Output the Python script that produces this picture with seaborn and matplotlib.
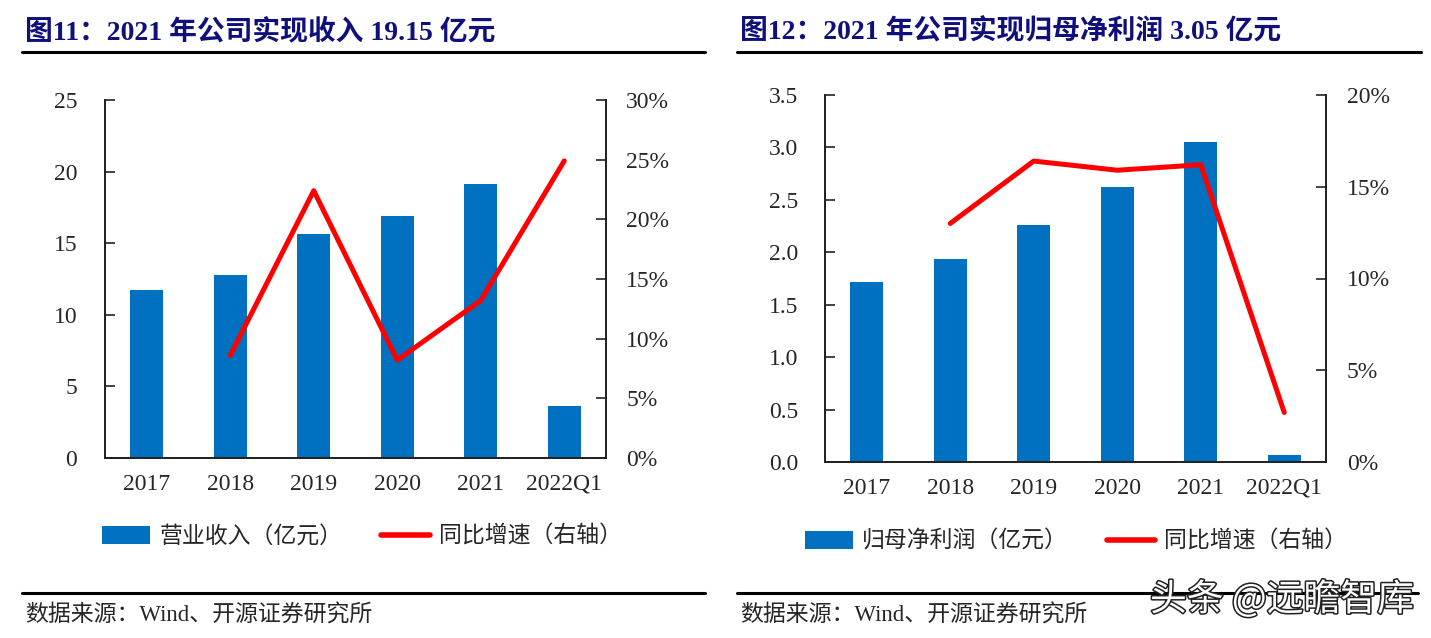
import numpy as np
import pandas as pd
import matplotlib
matplotlib.use('Agg')
import matplotlib.pyplot as plt
import matplotlib.patheffects as pe
from matplotlib.lines import Line2D
from matplotlib.patches import Patch
from matplotlib.ticker import FuncFormatter
import seaborn as sns

# data
years = ['2017', '2018', '2019', '2020', '2021', '2022Q1']
revenue = [11.76, 12.77, 15.63, 16.91, 19.15, 3.63]
revenue_yoy = [np.nan, 8.6, 22.4, 8.2, 13.2, 24.9]
profit = [1.72, 1.94, 2.26, 2.62, 3.05, 0.07]
profit_yoy = [np.nan, 13.0, 16.4, 15.9, 16.2, 2.7]

BLUE = '#0070C0'
RED = '#FF0000'
NAVY = '#10107c'
W, H = 1431, 638

sns.set_style('white')
plt.rcParams['font.family'] = ['Liberation Serif', 'Noto Sans CJK SC']
plt.rcParams['axes.unicode_minus'] = False

fig = plt.figure(figsize=(W / 100, H / 100), dpi=100)


def box(x0, y0, x1, y1):
    return [x0 / W, 1 - y1 / H, (x1 - x0) / W, (y1 - y0) / H]


def hline(x0, x1, y, lw=2.2):
    fig.add_artist(Line2D([x0 / W, x1 / W], [1 - y / H, 1 - y / H], color='black', lw=lw))


def panel(rect, values, yoy, ylim, yticks, yfmt, rlim, rticks, lpad, rpad):
    n = len(years)
    df = pd.DataFrame({'year': years, 'value': values, 'pos': np.arange(n), 'yoy': yoy})
    ax = fig.add_axes(rect)
    sns.barplot(data=df, x='year', y='value', color=BLUE, saturation=1,
                width=0.4, linewidth=0, ax=ax)
    ax2 = ax.twinx()
    sns.lineplot(data=df, x='pos', y='yoy', color=RED, lw=3.6, ax=ax2)

    ax.set_xlim(-0.5, n - 0.5)
    ax.set_ylim(*ylim)
    ax.set_yticks(yticks)
    ax.yaxis.set_major_formatter(FuncFormatter(lambda v, p: yfmt.format(v)))
    ax.set_xticks(np.arange(-0.5, n), labels=[''] * (n + 1))
    ax.set_xticks(np.arange(n), labels=years, minor=True)
    ax.tick_params(axis='x', which='major', direction='in', length=7, width=1.2, color='#222')
    ax.tick_params(axis='x', which='minor', length=0, pad=11.5, labelsize=17)
    ax.tick_params(axis='y', direction='in', length=7, width=1.2, color='#222',
                   pad=lpad, labelsize=17, left=True)

    ax2.set_ylim(*rlim)
    ax2.set_yticks(rticks)
    ax2.yaxis.set_major_formatter(FuncFormatter(lambda v, p: '{:.0f}%'.format(v)))
    ax2.tick_params(axis='y', direction='in', length=7, width=1.2, color='#222',
                    pad=rpad, labelsize=17, right=True)
    ax.set_xlim(-0.5, n - 0.5)

    for a in (ax, ax2):
        a.set_xlabel('')
        a.set_ylabel('')
        a.spines['top'].set_visible(False)
        for s in ('left', 'right', 'bottom'):
            a.spines[s].set_color('#222')
            a.spines[s].set_linewidth(1.3)
    return ax, ax2


# left panel: revenue
panel(box(105, 100, 606, 458), revenue, revenue_yoy, (0, 25), np.arange(0, 26, 5),
      '{:.0f}', (0, 30), np.arange(0, 31, 5), 20, 14.5)
# right panel: net profit
panel(box(825, 95, 1326, 462), profit, profit_yoy, (0, 3.5), np.arange(0, 3.51, 0.5),
      '{:.1f}', (0, 20), np.arange(0, 21, 5), 19.5, 15)

# titles
fig.text(25 / W, 1 - 32 / H, '图11：2021 年公司实现收入 19.15 亿元', fontsize=20,
         fontweight='bold', color=NAVY, va='center', ha='left')
fig.text(740 / W, 1 - 32 / H, '图12：2021 年公司实现归母净利润 3.05 亿元', fontsize=20,
         fontweight='bold', color=NAVY, va='center', ha='left')
hline(22, 705, 52)
hline(737, 1421, 52)

# legends
for cx, cy, name in [(362, 537, '营业收入（亿元）'), (1076, 542, '归母净利润（亿元）')]:
    handles = [Patch(facecolor=BLUE, edgecolor='none', label=name),
               Line2D([], [], color=RED, lw=4, label='同比增速（右轴）')]
    fig.legend(handles=handles, loc='center', bbox_to_anchor=(cx / W, 1 - cy / H), ncol=2,
               frameon=False, fontsize=16.5, handlelength=2.1, handleheight=0.85,
               handletextpad=0.4, columnspacing=1.7)

# source lines
hline(22, 705, 593)
hline(737, 1418, 593)
fig.text(25 / W, 1 - 616 / H, '数据来源：Wind、开源证券研究所', fontsize=16.5, va='center', ha='left')
fig.text(740 / W, 1 - 616 / H, '数据来源：Wind、开源证券研究所', fontsize=16.5, va='center', ha='left')

# watermark
fig.text(1150 / W, 1 - 600 / H, '头条 @远瞻智库', fontsize=26.5,
         family=['Noto Sans CJK SC', 'DejaVu Sans'], color='white', va='center', ha='left',
         path_effects=[pe.withStroke(linewidth=2.2, foreground='#222')])

fig.savefig('out.png', dpi=100)
